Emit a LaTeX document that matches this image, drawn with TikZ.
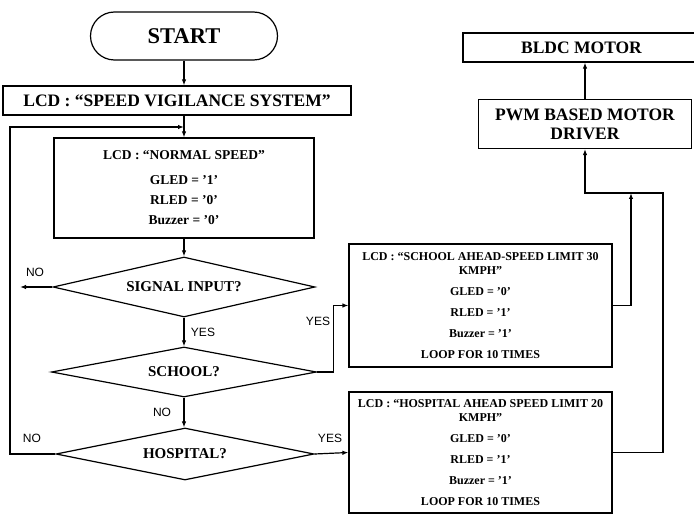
\documentclass[tikz,border=0pt]{standalone}
\usepackage{fontspec}
\setmainfont{Liberation Serif}
\setsansfont{Liberation Sans}
\usetikzlibrary{arrows.meta,shapes.geometric,positioning}

\tikzset{
  box/.style={draw, line width=1.2pt, rectangle, inner sep=0pt, align=center,
    font=\bfseries\fontsize{17.5}{19}\selectfont},
  infobox/.style={box, minimum width=263pt, font=\bfseries\fontsize{12}{14}\selectfont},
  decision/.style={draw, line width=1.2pt, diamond, inner sep=0pt, aspect=5,
    font=\bfseries\fontsize{15}{17}\selectfont},
  flow/.style={line width=1.2pt, -{Latex[length=6pt,width=4.5pt]}},
  line/.style={line width=1.2pt},
  answer/.style={font=\sffamily\fontsize{12}{14}\selectfont, inner sep=0pt}
}

\begin{document}
\begin{tikzpicture}[x=1pt,y=1pt]
                    \useasboundingbox (0,0) rectangle (694,-516);
                    % left column
                    \node [box, rounded corners=24pt, minimum width=187pt, minimum height=48pt,
                           font=\bfseries\fontsize{22.5}{24}\selectfont] (start) at (184,-36) {START};
                    \node [box, minimum width=348pt, minimum height=29pt] (lcd) at (177,-100.5)
                          {LCD : ``SPEED VIGILANCE SYSTEM''};
                    \node [box, minimum width=260pt, minimum height=100pt,
                           font=\bfseries\fontsize{13.5}{20}\selectfont] (normal) at (184,-188)
                          {LCD : ``NORMAL SPEED''\\[5pt] GLED = '1'\\ RLED = '0'\\ Buzzer = '0'};
                    \node [decision, minimum width=262pt, minimum height=60pt] (signal) at (184,-287) {SIGNAL INPUT?};
                    \node [decision, minimum width=265pt, minimum height=50pt] (school) at (184,-372) {SCHOOL?};
                    \node [decision, minimum width=258pt, minimum height=52pt] (hospital) at (185,-454) {HOSPITAL?};
                    % right column
                    \node [infobox, minimum height=123pt] (schoolbox) at (480.5,-305.5)
                          {LCD : ``SCHOOL AHEAD-SPEED LIMIT 30\\ KMPH''\\[7pt] GLED = '0'\\[7pt] RLED = '1'\\[7pt]
                           Buzzer = '1'\\[7pt] LOOP FOR 10 TIMES};
                    \node [infobox, minimum height=121pt] (hospbox) at (480.5,-452.5)
                          {LCD : ``HOSPITAL AHEAD SPEED LIMIT 20\\ KMPH''\\[7pt] GLED = '0'\\[7pt] RLED = '1'\\[7pt]
                           Buzzer = '1'\\[7pt] LOOP FOR 10 TIMES};
                    \node [box, minimum width=213pt, minimum height=49pt] (pwm) at (585,-124)
                          {PWM BASED MOTOR\\ DRIVER};
                    \node [box, minimum width=237pt, minimum height=29pt] (bldc) at (581.5,-47.5) {BLDC MOTOR};
                    \coordinate (merge) at (184,-127);
                    \coordinate (loopleft) at (10,-454);
                    \coordinate (sigout) at (20,-287);
                    \coordinate (join) at (631,-193);
                    \coordinate (bend) at (663,-193);
                    % connectors
                    \draw [flow] (start.south) -- (start.south |- lcd.north);
                    \draw [flow] (lcd.south -| normal.north) -- (normal.north);
                    \draw [flow] (normal.south) -- (signal.north);
                    \draw [flow] (signal.west) -- (sigout);
                    \draw [flow] (signal.south) -- (school.north);
                    \draw [flow] (school.south) -- (school.south |- hospital.north);
                    \draw [flow] (hospital.east) -- (hospbox.west);
                    \draw [flow] (school.east) -- ++(16.5,0) |- (schoolbox.west);
                    \draw [flow] (hospital.west) -- (loopleft) |- (merge);
                    \draw [flow] (schoolbox.east) -| (join);
                    \draw [flow] (hospbox.east) -| (bend) -| (pwm.south);
                    \draw [flow] (pwm.north) -- (pwm.north |- bldc.south);
                    % labels
                    \node [answer] (no1) at (35,-272) {NO};
                    \node [answer] (yes1) at (203,-332) {YES};
                    \node [answer] (yes2) at (318,-321) {YES};
                    \node [answer] (no2) at (162,-412) {NO};
                    \node [answer] (no3) at (32,-438) {NO};
                    \node [answer] (yes3) at (330,-438) {YES};
                \end{tikzpicture}
\end{document}
